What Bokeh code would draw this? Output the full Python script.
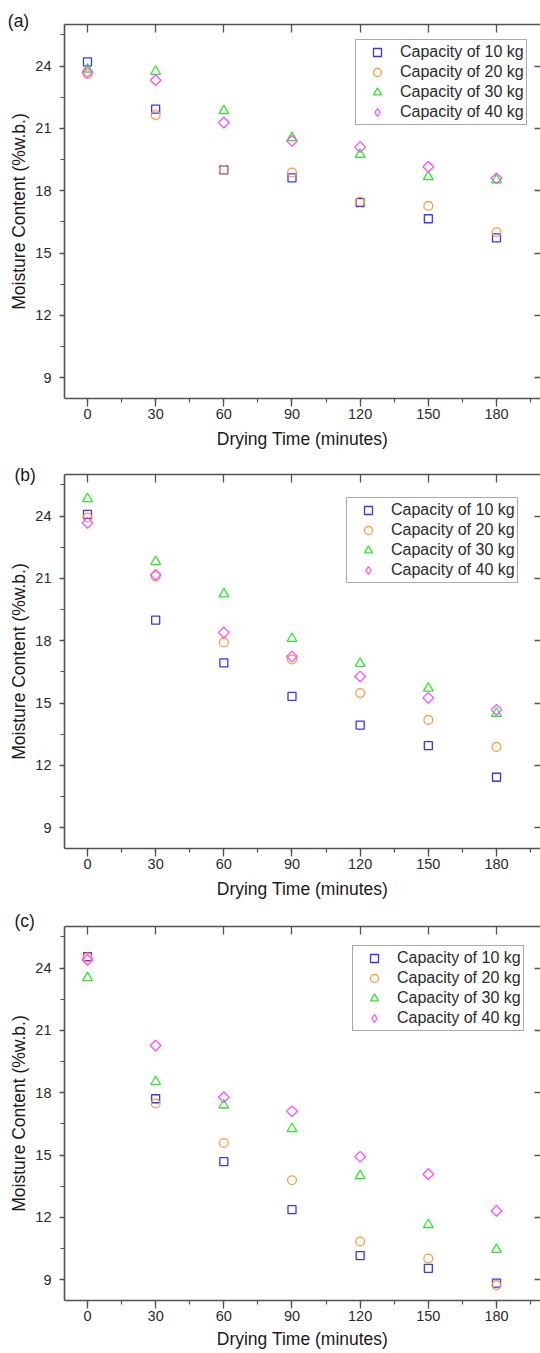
import numpy as np
from bokeh.plotting import figure
from bokeh.layouts import column
from bokeh.models import (Title, LinearAxis, SingleIntervalTicker, Range1d,
                          Legend, LegendItem)
from bokeh.embed import file_html
from bokeh.resources import INLINE

# ---------------- data ----------------
time_min = [0, 30, 60, 90, 120, 150, 180]
series_labels = ["Capacity of 10 kg", "Capacity of 20 kg",
                 "Capacity of 30 kg", "Capacity of 40 kg"]

# panel (a)
a_10kg = [24.2, 21.93, 19.0, 18.62, 17.43, 16.65, 15.73]
a_20kg = [23.62, 21.64, 19.0, 18.88, 17.48, 17.27, 16.0]
a_30kg = [23.85, 23.74, 21.85, 20.55, 19.74, 18.67, 18.52]
a_40kg = [23.7, 23.32, 21.28, 20.4, 20.1, 19.15, 18.6]

# panel (b)
b_10kg = [24.08, 18.99, 16.93, 15.32, 13.94, 12.95, 11.43]
b_20kg = [23.93, 21.1, 17.92, 17.1, 15.48, 14.19, 12.89]
b_30kg = [24.83, 21.8, 20.25, 18.1, 16.9, 15.71, 14.5]
b_40kg = [23.67, 21.17, 18.39, 17.24, 16.28, 15.25, 14.67]

# panel (c)
c_10kg = [24.55, 17.71, 14.68, 12.37, 10.16, 9.55, 8.84]
c_20kg = [24.5, 17.48, 15.58, 13.79, 10.84, 10.02, 8.74]
c_30kg = [23.53, 18.53, 17.4, 16.27, 14.0, 11.65, 10.45]
c_40kg = [24.39, 20.27, 17.78, 17.11, 14.92, 14.08, 12.31]

# ---------------- styling ----------------
FONT = "Liberation Sans"
AXIS_COL = "#505050"
TEXT_COL = "#2b2b2b"
COLORS = ["#3535ff", "#ff9a3c", "#2ee82e", "#ff4dff"]
# (plot marker, size, angle, legend marker)
MARKERS = [("square", 8.0, 0.0, "square"), ("circle", 8.8, 0.0, "circle"),
           ("triangle", 9.8, 0.0, "triangle"), ("square", 7.6, np.pi / 4, "diamond")]


def make_title(tag, offset, standoff):
    t = Title(text=tag, align="left", vertical_align="bottom",
              text_font=FONT, text_font_size="17.5px", text_color="#1a1a1a",
              text_font_style="normal", offset=offset)
    try:
        t.standoff = standoff
    except Exception:
        t.standoff = 0
    return t


def make_panel(tag, series, height, top_border, bottom_border, legend_loc,
               tag_offset, tag_standoff, xlabel_standoff):
    p = figure(width=540, height=height,
               x_range=Range1d(-10.12, 199.37), y_range=Range1d(8, 26),
               output_backend="svg", toolbar_location=None,
               title=make_title(tag, tag_offset, tag_standoff),
               min_border_left=64, min_border_right=0,
               min_border_top=top_border, min_border_bottom=bottom_border)
    p.outline_line_color = None
    p.xgrid.visible = False
    p.ygrid.visible = False
    p.background_fill_color = "white"

    # bottom axis
    xa = p.xaxis[0]
    xa.ticker = SingleIntervalTicker(interval=30, num_minor_ticks=2)
    xa.axis_label = "Drying Time (minutes)"
    xa.major_tick_in = 0
    xa.major_tick_out = 8
    xa.minor_tick_in = 0
    xa.minor_tick_out = 4
    xa.major_label_standoff = 2
    xa.axis_label_standoff = xlabel_standoff

    # left axis
    ya = p.yaxis[0]
    ya.ticker = SingleIntervalTicker(interval=3, num_minor_ticks=2)
    ya.axis_label = "Moisture Content (%w.b.)"
    ya.major_tick_in = 0
    ya.major_tick_out = 5
    ya.minor_tick_in = 0
    ya.minor_tick_out = 4
    ya.major_label_standoff = 8
    ya.axis_label_standoff = 3

    for ax in (xa, ya):
        ax.axis_line_color = AXIS_COL
        ax.axis_line_width = 1.6
        ax.major_tick_line_color = AXIS_COL
        ax.minor_tick_line_color = AXIS_COL
        ax.major_tick_line_width = 1.3
        ax.minor_tick_line_width = 1.2
        ax.major_label_text_font = FONT
        ax.major_label_text_font_size = "14.5px"
        ax.major_label_text_color = TEXT_COL
        ax.axis_label_text_font = FONT
        ax.axis_label_text_font_size = "17.5px"
        ax.axis_label_text_font_style = "normal"
        ax.axis_label_text_color = "#1a1a1a"

    # top axis (mirror, inward ticks, no labels)
    top = LinearAxis(ticker=SingleIntervalTicker(interval=30, num_minor_ticks=0),
                     major_label_text_color=None, major_label_text_font_size="1px",
                     major_label_standoff=0,
                     major_tick_in=8, major_tick_out=0,
                     minor_tick_in=0, minor_tick_out=0,
                     axis_line_color=AXIS_COL, axis_line_width=1.6,
                     major_tick_line_color=AXIS_COL, major_tick_line_width=1.3,
                     minor_tick_line_color=None)
    p.add_layout(top, "above")
    # right axis (inward ticks only, frame continues past the page edge)
    right = LinearAxis(ticker=SingleIntervalTicker(interval=3, num_minor_ticks=0),
                       major_label_text_color=None, major_label_text_font_size="1px",
                       major_label_standoff=0,
                       major_tick_in=6, major_tick_out=0,
                       minor_tick_in=0, minor_tick_out=0,
                       axis_line_color=None,
                       major_tick_line_color=AXIS_COL, major_tick_line_width=1.3,
                       minor_tick_line_color=None)
    p.add_layout(right, "right")

    items = []
    for (mk, sz, ang, lmk), col, ys, lab in zip(MARKERS, COLORS, series, series_labels):
        r = p.scatter(time_min, ys, marker=mk, size=sz, angle=ang,
                      fill_color=None, line_color=col, line_width=1.3)
        if lmk != mk:
            # legend-only swatch (the legend does not rotate markers);
            # a single NaN point so nothing is drawn in the plot area
            r = p.scatter([np.nan], [np.nan], marker=lmk, size=sz,
                          fill_color=None, line_color=col, line_width=1.3)
        items.append(LegendItem(label=lab, renderers=[r]))

    leg = Legend(items=items, location=legend_loc, padding=2, margin=0,
                 glyph_width=38, glyph_height=20, label_standoff=4,
                 label_height=20, spacing=0,
                 label_text_font=FONT, label_text_font_size="16px",
                 label_text_color=TEXT_COL,
                 border_line_color="#555555", border_line_width=1.3,
                 background_fill_color="white", background_fill_alpha=1.0)
    p.add_layout(leg)
    return p


pa = make_panel("(a)", [a_10kg, a_20kg, a_30kg, a_40kg], 458, 24, 60,
                (291, 273), -56.7, -12.8, 7)
pb = make_panel("(b)", [b_10kg, b_20kg, b_30kg, b_40kg], 452, 16, 62,
                (282, 265), -50, -20, 7)
pc = make_panel("(c)", [c_10kg, c_20kg, c_30kg, c_40kg], 443, 16, 53,
                (288, 269), -50, -8, 5)

layout = column(pa, pb, pc, spacing=0)
open("out.html", "w").write(file_html(layout, INLINE))
